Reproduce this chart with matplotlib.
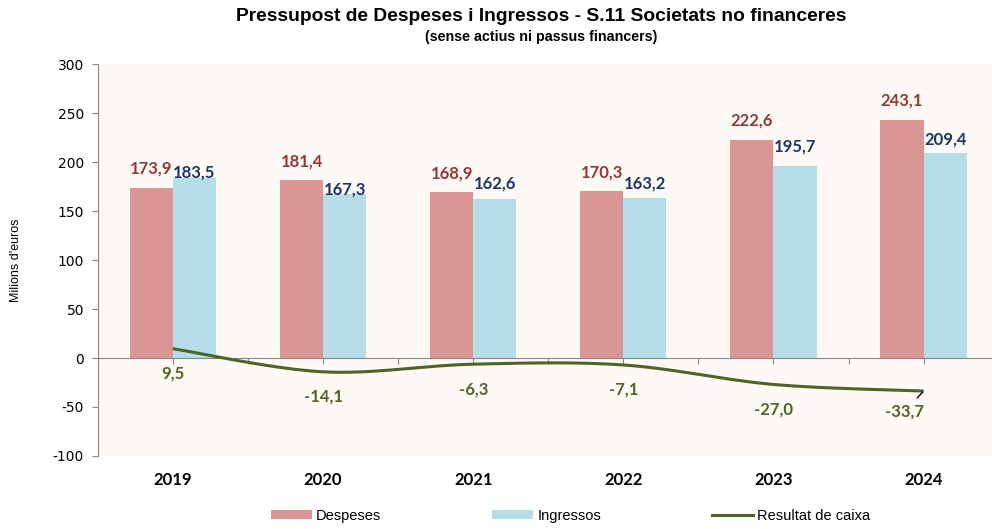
import numpy as np
import matplotlib.pyplot as plt
from matplotlib.transforms import blended_transform_factory
from matplotlib.patches import Patch
from matplotlib.lines import Line2D

# Data
years = ["2019", "2020", "2021", "2022", "2023", "2024"]
despeses = [173.9, 181.4, 168.9, 170.3, 222.6, 243.1]
ingressos = [183.5, 167.3, 162.6, 163.2, 195.7, 209.4]
resultat = [9.5, -14.1, -6.3, -7.1, -27.0, -33.7]
y_ticks = [-100, -50, 0, 50, 100, 150, 200, 250, 300]

# label lift above the blue bars (pt), moved by hand in the original
ing_lift = [4.3, 3.6, 10.8, 10.8, 14.4, 9.4]

C_DESP = "#D99694"
C_ING = "#B7DEE8"
C_RES = "#4F6228"
C_DESP_TXT = "#953735"
C_ING_TXT = "#1A3668"
C_AXIS = "#868686"
BG = "#FDFAF5"

ARIAL = ["Liberation Sans", "DejaVu Sans"]
CALIBRI = ["Lato", "DejaVu Sans"]


def fmt(v):
    return f"{v:.1f}".replace(".", ",")


def smooth(xs, ys, n=40):
    """Excel-like smoothed line: cubic Bezier through every point."""
    p = np.column_stack([xs, ys]).astype(float)
    ext = np.vstack([p[0], p, p[-1]])
    t = np.linspace(0, 1, n)[:, None]
    out = []
    for i in range(len(p) - 1):
        p0, p1 = ext[i + 1], ext[i + 2]
        c1 = p0 + (ext[i + 2] - ext[i]) / 6
        c2 = p1 - (ext[i + 3] - ext[i + 1]) / 6
        seg = ((1 - t) ** 3) * p0 + 3 * ((1 - t) ** 2) * t * c1 + 3 * (1 - t) * t ** 2 * c2 + t ** 3 * p1
        out.append(seg if i == 0 else seg[1:])
    seg = np.vstack(out)
    return seg[:, 0], seg[:, 1]


fig = plt.figure(figsize=(9.92, 5.29), dpi=100)
ax = fig.add_axes([0.0987, 0.138, 0.908, 0.741])
ax.set_facecolor(BG)

x = np.arange(len(years))
w = 0.287
ax.bar(x - w / 2, despeses, w, color=C_DESP, zorder=2)
ax.bar(x + w / 2, ingressos, w, color=C_ING, zorder=2)

sx, sy = smooth(x, resultat)
ax.plot(sx, sy, color=C_RES, lw=2.2, zorder=4, solid_capstyle="butt")

lab = dict(ha="center", va="center", fontsize=12, fontweight="bold",
           family=CALIBRI, zorder=5, textcoords="offset points")
for xi, v in zip(x, despeses):
    ax.annotate(fmt(v), (xi - w / 2, v), xytext=(0, 13.7), color=C_DESP_TXT, **lab)
for xi, v, lift in zip(x, ingressos, ing_lift):
    ax.annotate(fmt(v), (xi + w / 2, v), xytext=(0, lift), color=C_ING_TXT, **lab)
for i, (xi, v) in enumerate(zip(x, resultat)):
    if i == len(x) - 1:
        ax.annotate(fmt(v), (xi, v), xytext=(-13.7, -15), color=C_RES,
                    arrowprops=dict(arrowstyle="-", color="black", lw=1,
                                    shrinkA=3, shrinkB=1), **lab)
    else:
        ax.annotate(fmt(v), (xi, v), xytext=(0, -18), color=C_RES, **lab)

ax.set_xlim(-0.5, len(years) - 0.5)
ax.set_ylim(-100, 300)
ax.set_yticks(y_ticks)
ax.set_yticklabels([str(t) for t in y_ticks], family="DejaVu Sans", fontsize=10)

# zero line acts as the category axis
ax.spines["bottom"].set_position(("data", 0))
ax.spines["bottom"].set_color(C_AXIS)
ax.spines["bottom"].set_zorder(3)
ax.spines["left"].set_color(C_AXIS)
ax.spines["top"].set_visible(False)
ax.spines["right"].set_visible(False)
ax.set_xticks(np.arange(-0.5, len(years), 0.5))
ax.set_xticklabels([])
ax.tick_params(axis="x", length=4, color=C_AXIS, direction="out")
ax.tick_params(axis="y", length=4, color=C_AXIS, pad=6)

trans = blended_transform_factory(ax.transData, ax.transAxes)
for xi, yr in zip(x, years):
    ax.text(xi, -0.06, yr, transform=trans, ha="center", va="center",
            fontsize=12, fontweight="bold", family=CALIBRI)

ax.set_ylabel("Milions d'euros", family=ARIAL, fontsize=9, labelpad=22)

fig.text(0.546, 0.968, "Pressupost de Despeses i Ingressos - S.11 Societats no financeres",
         ha="center", va="center", fontsize=13.9, fontweight="bold", family=ARIAL)
fig.text(0.546, 0.930, "(sense actius ni passus financers)",
         ha="center", va="center", fontsize=10.3, fontweight="bold", family=ARIAL)

handles = [Patch(facecolor=C_DESP), Patch(facecolor=C_ING),
           Line2D([], [], color=C_RES, lw=2.2)]
fig.legend(handles, ["Despeses", "Ingressos", "Resultat de caixa"],
           loc="center", bbox_to_anchor=(0.575, 0.025), ncol=3, frameon=False,
           prop={"family": ARIAL, "size": 10.5}, handlelength=2.8,
           handleheight=0.5, handletextpad=0.3, columnspacing=7.6)

fig.savefig("out.png", dpi=100)
